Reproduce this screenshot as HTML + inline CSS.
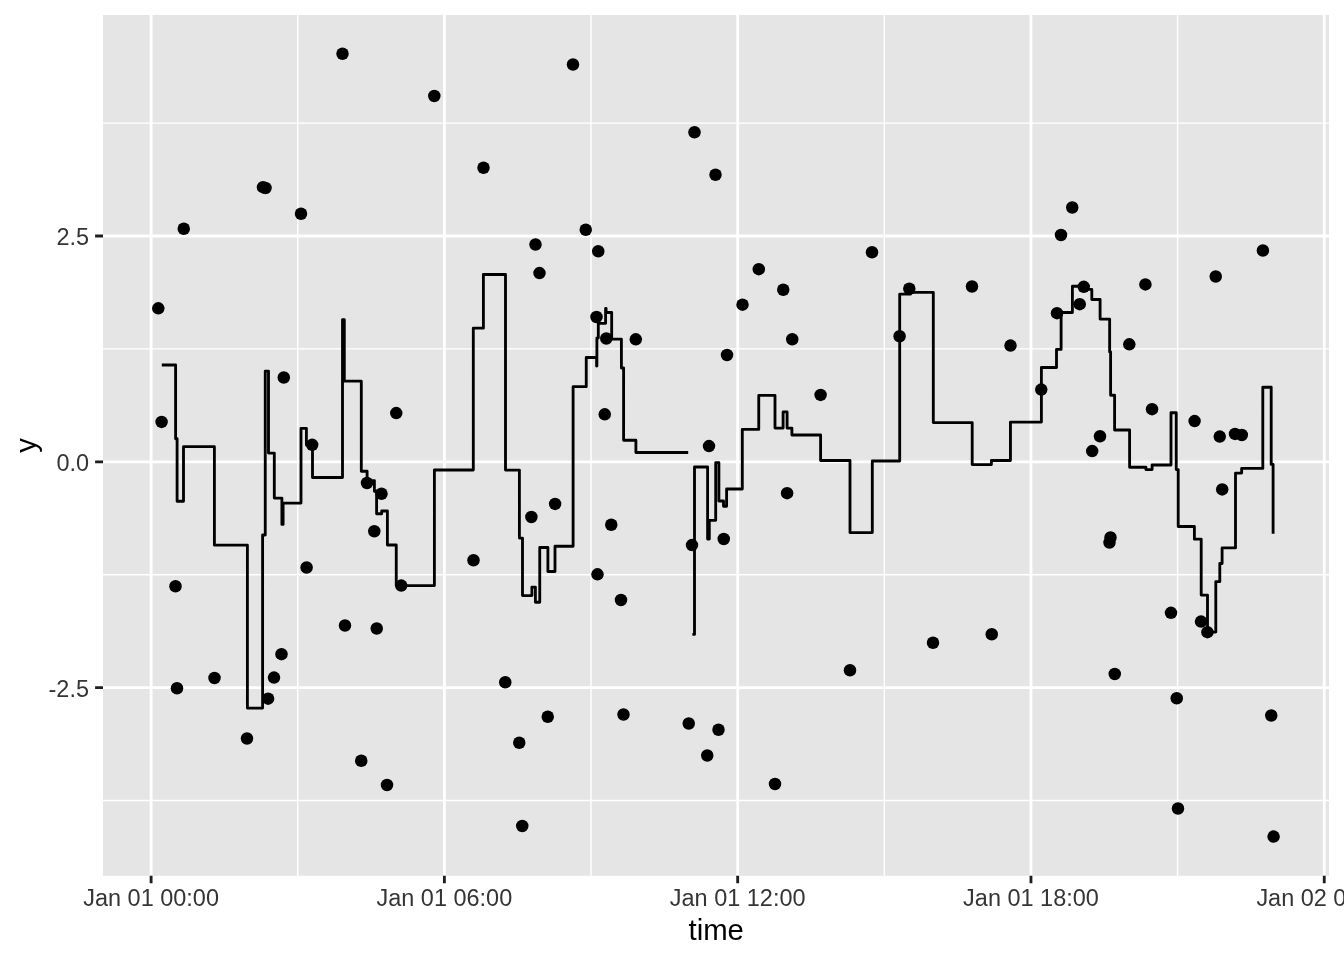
<!DOCTYPE html>
<html><head><meta charset="utf-8"><style>
html,body{margin:0;padding:0;background:#fff;width:1344px;height:960px;overflow:hidden}
svg{display:block;font-family:"Liberation Sans",sans-serif;will-change:transform}
</style></head><body>
<svg width="1344" height="960" viewBox="0 0 1344 960">
<rect x="0" y="0" width="1344" height="960" fill="#FFFFFF"/>
<rect x="103" y="15" width="1226" height="860.8" fill="#E5E5E5"/>
<path d="M103,800.46H1329M103,574.69H1329M103,348.91H1329M103,123.14H1329M297.74,15V875.8M591.03,15V875.8M884.32,15V875.8M1177.6,15V875.8" stroke="#FFFFFF" stroke-width="1.42" fill="none"/>
<path d="M103,687.58H1329M103,461.8H1329M103,236.03H1329M151.1,15V875.8M444.39,15V875.8M737.67,15V875.8M1030.96,15V875.8M1324.24,15V875.8" stroke="#FFFFFF" stroke-width="2.84" fill="none"/>
<path d="M161.8,365 H175.6 V438.75 H177.1 V501.25 H183.5 V446.7 H214.4 V545.2 H247.4 V708.1 H262.6 V535 H265.25 V371.1 H268.5 V453.1 H274.3 V498.1 H281.9 V524.4 H283.1 V503.1 H301 V428.3 H306.4 V445 H312.5 V477.5 H342.5 V319.7 H344.3 V381.2 H361.3 V471.25 H367.1 V480.6 H374.4 V491.25 H376.6 V513.75 H381.7 V511 H387.4 V545 H396.25 V585.6 H434.4 V470 H473.3 V328.2 H483.4 V274.5 H505.5 V470.1 H519.4 V538.1 H522.5 V595.6 H531.9 V587.1 H535.4 V602.25 H539.75 V547.5 H547.9 V571.5 H555 V546.25 H573.1 V386.67 H586.25 V357.5 H596.6 V366 H596.9 V338 H598.3 V323.3 H605.6 V308.5 H606.1 V312.5 H611.67 V339.2 H621.4 V368 H623.6 V440.25 H635.9 V452.5 H688.2 M692.4,634.4 H694.5 V467 H707.6 V539.1 H709.3 V520.3 H715.7 V462.65 H718.9 V501 H723.5 V506.25 H726.6 V489 H742.3 V429.4 H758.75 V395.4 H775 V428.1 H783.1 V411.9 H787.1 V428.1 H791.9 V435 H820.6 V460.5 H850 V532.6 H872.3 V461 H899.7 V294.2 H910.4 V292.4 H933.3 V422.6 H972.2 V464.6 H991.4 V460.5 H1010.45 V422.1 H1041.4 V367.5 H1056.5 V349.4 H1061.1 V312.5 H1072.4 V286.25 H1085 V289.4 H1091.8 V299.5 H1100.1 V319.1 H1109.65 V351.9 H1110.6 V395.25 H1114.6 V430 H1129.6 V467.25 H1145.9 V469.6 H1152.1 V465 H1171 V412.75 H1176.25 V469.6 H1178.2 V526.5 H1194.4 V539.2 H1201.2 V595.1 H1207.5 V632.1 H1215.8 V581.7 H1219.8 V563.5 H1222.1 V547.9 H1235.5 V473.1 H1241.65 V468.4 H1262.8 V387.25 H1271.2 V464.4 H1273.1 V533.75" stroke="#000000" stroke-width="2.84" fill="none" stroke-linejoin="round" stroke-linecap="butt"/>
<g fill="#000000"><circle cx="342.5" cy="53.75" r="6.25"/><circle cx="434.3" cy="96" r="6.25"/><circle cx="263" cy="187.2" r="6.25"/><circle cx="265.5" cy="188" r="6.25"/><circle cx="301" cy="213.75" r="6.25"/><circle cx="183.75" cy="228.75" r="6.25"/><circle cx="573" cy="64.5" r="6.25"/><circle cx="694.5" cy="132.25" r="6.25"/><circle cx="483.5" cy="167.75" r="6.25"/><circle cx="715.5" cy="174.75" r="6.25"/><circle cx="585.75" cy="229.75" r="6.25"/><circle cx="535.5" cy="244.5" r="6.25"/><circle cx="598.25" cy="251.25" r="6.25"/><circle cx="872" cy="252.25" r="6.25"/><circle cx="1072.25" cy="207.5" r="6.25"/><circle cx="1061" cy="235" r="6.25"/><circle cx="1262.9" cy="250.5" r="6.25"/><circle cx="158.3" cy="308.3" r="6.25"/><circle cx="161.6" cy="421.9" r="6.25"/><circle cx="283.8" cy="377.5" r="6.25"/><circle cx="312.2" cy="444.8" r="6.25"/><circle cx="396.25" cy="413.1" r="6.25"/><circle cx="367" cy="483" r="6.25"/><circle cx="381.5" cy="493.75" r="6.25"/><circle cx="374.3" cy="531.25" r="6.25"/><circle cx="401.25" cy="585.6" r="6.25"/><circle cx="306.6" cy="567.5" r="6.25"/><circle cx="175.5" cy="586.25" r="6.25"/><circle cx="177" cy="688.25" r="6.25"/><circle cx="214.5" cy="678" r="6.25"/><circle cx="274" cy="677.6" r="6.25"/><circle cx="281.5" cy="654.2" r="6.25"/><circle cx="268.1" cy="698.7" r="6.25"/><circle cx="345" cy="625.5" r="6.25"/><circle cx="376.75" cy="628.5" r="6.25"/><circle cx="539.5" cy="273.1" r="6.25"/><circle cx="596.5" cy="317" r="6.25"/><circle cx="606.3" cy="338.5" r="6.25"/><circle cx="635.8" cy="339.3" r="6.25"/><circle cx="727" cy="355" r="6.25"/><circle cx="742.5" cy="304.7" r="6.25"/><circle cx="758.8" cy="269.2" r="6.25"/><circle cx="783.25" cy="289.75" r="6.25"/><circle cx="792.25" cy="339.25" r="6.25"/><circle cx="604.75" cy="414.3" r="6.25"/><circle cx="709" cy="446.1" r="6.25"/><circle cx="820.6" cy="394.9" r="6.25"/><circle cx="787.1" cy="493.2" r="6.25"/><circle cx="692" cy="545.1" r="6.25"/><circle cx="723.75" cy="539" r="6.25"/><circle cx="473.5" cy="560.25" r="6.25"/><circle cx="505.25" cy="682.25" r="6.25"/><circle cx="531.4" cy="517" r="6.25"/><circle cx="555.1" cy="503.9" r="6.25"/><circle cx="611.25" cy="524.75" r="6.25"/><circle cx="597.5" cy="574.3" r="6.25"/><circle cx="621" cy="600" r="6.25"/><circle cx="850" cy="670.25" r="6.25"/><circle cx="933" cy="642.75" r="6.25"/><circle cx="991.75" cy="634.25" r="6.25"/><circle cx="909.3" cy="288.75" r="6.25"/><circle cx="899.6" cy="336.25" r="6.25"/><circle cx="972" cy="286.5" r="6.25"/><circle cx="1010.5" cy="345.6" r="6.25"/><circle cx="1041.25" cy="389.6" r="6.25"/><circle cx="1057" cy="313.2" r="6.25"/><circle cx="1079.7" cy="304.2" r="6.25"/><circle cx="1083.75" cy="286.8" r="6.25"/><circle cx="1145.4" cy="284.4" r="6.25"/><circle cx="1129.3" cy="344.3" r="6.25"/><circle cx="1215.75" cy="276.5" r="6.25"/><circle cx="1152.05" cy="409.2" r="6.25"/><circle cx="1194.6" cy="421.1" r="6.25"/><circle cx="1100" cy="436.25" r="6.25"/><circle cx="1092.2" cy="451.1" r="6.25"/><circle cx="1219.75" cy="436.6" r="6.25"/><circle cx="1235" cy="433.9" r="6.25"/><circle cx="1241.8" cy="435" r="6.25"/><circle cx="1222.2" cy="489.4" r="6.25"/><circle cx="1110.5" cy="537.5" r="6.25"/><circle cx="1109.5" cy="542.5" r="6.25"/><circle cx="1171" cy="612.8" r="6.25"/><circle cx="1201" cy="621.6" r="6.25"/><circle cx="1207.4" cy="632.2" r="6.25"/><circle cx="1114.75" cy="674" r="6.25"/><circle cx="1176.75" cy="698.25" r="6.25"/><circle cx="247" cy="738.5" r="6.25"/><circle cx="361.25" cy="760.75" r="6.25"/><circle cx="387" cy="785" r="6.25"/><circle cx="547.75" cy="716.75" r="6.25"/><circle cx="519.25" cy="742.75" r="6.25"/><circle cx="522.25" cy="826" r="6.25"/><circle cx="623.5" cy="714.5" r="6.25"/><circle cx="688.75" cy="723.5" r="6.25"/><circle cx="718.5" cy="729.75" r="6.25"/><circle cx="707.25" cy="755.5" r="6.25"/><circle cx="775" cy="784" r="6.25"/><circle cx="1271.25" cy="715.5" r="6.25"/><circle cx="1178" cy="808.5" r="6.25"/><circle cx="1273.6" cy="836.6" r="6.25"/></g>
<path d="M95.1,687.58H103M95.1,461.8H103M95.1,236.03H103M151.1,875.8V883.13M444.39,875.8V883.13M737.67,875.8V883.13M1030.96,875.8V883.13M1324.24,875.8V883.13" stroke="#1E1E1E" stroke-width="2.84" fill="none"/>
<text x="89.0" y="245" text-anchor="end" fill="#353535" font-size="23.47">2.5</text>
<text x="89.0" y="471" text-anchor="end" fill="#353535" font-size="23.47">0.0</text>
<text x="89.0" y="697" text-anchor="end" fill="#353535" font-size="23.47">-2.5</text>
<text x="151.1" y="906" text-anchor="middle" fill="#353535" font-size="23.47">Jan 01 00:00</text>
<text x="444.39" y="906" text-anchor="middle" fill="#353535" font-size="23.47">Jan 01 06:00</text>
<text x="737.67" y="906" text-anchor="middle" fill="#353535" font-size="23.47">Jan 01 12:00</text>
<text x="1030.96" y="906" text-anchor="middle" fill="#353535" font-size="23.47">Jan 01 18:00</text>
<text x="1324.24" y="906" text-anchor="middle" fill="#353535" font-size="23.47">Jan 02 00:00</text>
<text x="716.2" y="939.6" text-anchor="middle" fill="#000000" font-size="29.33">time</text>
<text transform="translate(35.7,445.4) rotate(-90)" x="0" y="0" text-anchor="middle" fill="#000000" font-size="29.33">y</text>
</svg>
</body></html>
